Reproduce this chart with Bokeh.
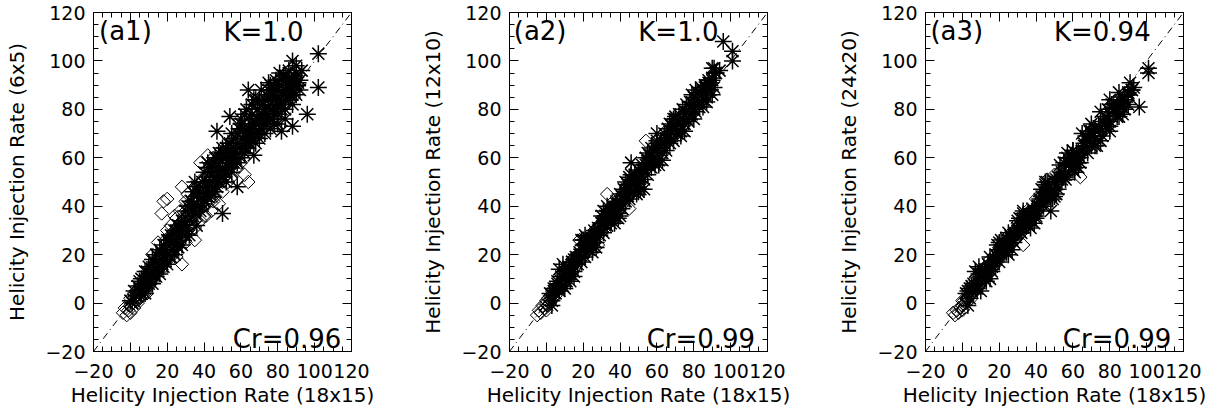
import math
from bokeh.plotting import figure
from bokeh.models import Range1d, LinearAxis, SingleIntervalTicker, Slope, Label
from bokeh.layouts import row
from bokeh.embed import file_html
from bokeh.resources import INLINE

FONT = "DejaVu Sans"

# ---------------- data ----------------
# panel a1 : 6x5 vs 18x15
a1_star_x = [102, 102, 96, 88, 88, 82, 64, 67, 54, 47, 50, 58, 93, 81, 75,
             90, 92, 89, 86, 85, 83, 80, 78, 76, 74, 72, 70, 68, 66, 64, 62, 60, 58, 56, 55,
             86, 84, 80, 78, 76, 73, 70, 68, 65, 62, 90, 88, 84, 82, 79, 77, 74, 71, 67, 63,
             92, 87, 80, 75, 69, 66, 61, 59, 57, 53,
             52, 50, 48, 46, 45, 43, 41, 40, 38, 36, 35, 33, 31, 30, 48, 44, 42, 39, 37, 34, 55, 52, 47, 50, 53,
             28, 26, 24, 22, 20, 18, 16, 14, 12, 10, 8, 6, 4, 2, 25, 20, 15, 10, 5, 0, 27, 23, 19, 17, 13, 11, 9, 7, 3, 1]
a1_star_y = [103, 89, 78, 100, 73, 71, 88, 61, 77, 71, 37, 48, 96, 95, 91,
             95, 92, 90, 93, 88, 86, 88, 84, 80, 78, 82, 76, 74, 78, 72, 70, 74, 66, 64, 70,
             84, 80, 78, 74, 72, 70, 68, 66, 66, 62, 86, 82, 76, 82, 80, 76, 74, 72, 70, 66,
             88, 86, 74, 84, 80, 74, 68, 72, 60, 58,
             60, 56, 54, 52, 58, 50, 48, 54, 46, 44, 50, 42, 40, 38, 62, 46, 56, 50, 40, 46, 54, 50, 48, 64, 66,
             34, 32, 30, 28, 26, 24, 22, 20, 18, 15, 13, 10, 7, 5, 24, 20, 15, 10, 5, 1, 30, 25, 22, 18, 14, 12, 9, 7, 3, 0]
a1_star_core_x = [5, 7, 9, 11, 13, 15, 17, 19, 21, 23, 25, 27, 29, 31, 33, 35, 37, 39, 41, 43,
                  45, 47, 49, 51, 53, 55, 57, 59, 61, 63, 65, 67, 69, 71, 73, 75, 77, 79, 81, 83,
                  85, 87, 89, 91, 6, 10, 14, 18, 22, 26, 30, 34, 38, 42, 46, 50, 54, 58, 62, 66,
                  70, 74, 78, 82, 86, 90, 36, 44, 52, 60, 68, 76, 84, 32, 40, 56, 64, 72, 80, 88]
a1_star_core_y = [9, 6, 13, 10, 17, 14, 21, 18, 26, 22, 30, 27, 34, 31, 40, 37, 45, 41, 50, 46,
                  54, 51, 59, 55, 63, 60, 68, 64, 72, 69, 77, 73, 80, 77, 84, 81, 88, 85, 90, 87,
                  92, 89, 94, 91, 4, 8, 11, 15, 19, 23, 28, 36, 38, 44, 46, 52, 58, 58, 64, 68,
                  70, 76, 78, 80, 86, 90, 48, 56, 64, 76, 84, 90, 94, 34, 42, 62, 70, 76, 82, 88]
a1_star_fill_x = [60, 62, 64, 66, 68, 70, 72, 74, 76, 78, 80, 82, 84, 86, 88, 90, 61, 65, 69, 73,
                  77, 81, 85, 89, 63, 67, 71, 75, 79, 83, 40, 42, 44, 46, 48, 50, 52, 54, 56, 58,
                  20, 24, 28, 32, 36, 16, 12, 8, 26, 34]
a1_star_fill_y = [60, 78, 66, 82, 70, 84, 74, 86, 76, 90, 78, 92, 84, 96, 86, 98, 64, 70, 76, 80,
                  86, 84, 90, 92, 80, 84, 88, 88, 92, 94, 42, 58, 44, 60, 50, 62, 54, 66, 58, 70,
                  16, 20, 24, 28, 32, 12, 8, 4, 32, 40]
a1_dia_x = [18, 20, 17, 28, 42, 28, 35, 64, 62, 9, 44, 48, 24, 31, 38,
            -4, -3, -2, -1, 0, 0, 1, 2, 2, 3, 4, 4, 5, 6, 6, 7, 8, 8, 9, 10, 10, 11, 12, 12, 13, 14, 15, 15, 16, 17,
            18, 18, 19, 20, 21, 22, 22, 23, 24, 25, 26, 27, 28, 29, 30, 31, 32, 33, 34, 35, 36, 37, 38, 39, 40, 41, 42, 43, 44, 45,
            46, 47, 48, 49, 50, 51, 52, 54, 55, 57, 20, 25, 30, 35, 40, 45, 50, 15, 22, 27, 12, 30, 40, 50, 55, 58, 60, 45, 35, 25]
a1_dia_y = [42, 43, 37, 48, 61, 16, 26, 50, 53, 4, 38, 41, 36, 45, 58,
            -4, -2, -5, -3, -1, -4, 0, -2, 2, 1, 3, 0, 5, 3, 7, 5, 8, 4, 10, 7, 12, 9, 13, 10, 15, 12, 17, 13, 18, 15,
            20, 16, 22, 18, 24, 20, 26, 22, 28, 23, 30, 26, 32, 28, 35, 30, 38, 33, 40, 36, 42, 38, 45, 41, 48, 44, 50, 46, 52, 48,
            55, 50, 57, 52, 58, 54, 60, 56, 62, 58, 30, 35, 42, 48, 52, 60, 62, 25, 32, 38, 20, 25, 36, 46, 52, 56, 58, 42, 31, 19]
a1_dia_core_x = [0, 2, 4, 6, 8, 10, 12, 14, 16, 18, 20, 22, 24, 26, 28, 30, 32, 34, 36, 38,
                 40, 42, 44, 46, 48, 50, 52, 3, 7, 11, 15, 19, 23, 27, 31, 35, 39, 43, 47, 51,
                 20, 22, 24, 26, 28, 30, 32, 34, 36, 38, 40, 42, 44, 46, 48, 50, 52, 54, 56, 58,
                 5, 8, 11, 14, 17, 33, 37, 41, 53, 60]
a1_dia_core_y = [2, 4, 1, 8, 6, 12, 9, 14, 20, 17, 25, 19, 30, 24, 34, 28, 40, 36, 44, 34,
                 49, 41, 55, 44, 60, 50, 64, 5, 10, 14, 19, 26, 27, 33, 37, 42, 46, 50, 54, 57,
                 22, 28, 26, 32, 30, 38, 32, 42, 38, 46, 40, 52, 46, 54, 50, 60, 54, 64, 58, 66,
                 2, 10, 8, 16, 14, 30, 42, 36, 50, 64]

# panel a2 : 12x10 vs 18x15
a2_star_x = [96, 101, 101, 90, 92, 53, 46, 88, 94,
             2, 3, 4, 5, 6, 7, 8, 9, 10, 11, 12, 13, 14, 15, 16, 17, 18, 19, 20, 21,
             22, 23, 24, 25, 26, 27, 28, 29, 30, 31, 32, 33, 34, 35, 36, 37, 38, 39, 40, 41,
             42, 43, 44, 45, 46, 47, 48, 49, 50, 51, 52, 53, 54, 55, 56, 57, 58, 59, 60, 61,
             62, 63, 64, 65, 66, 67, 68, 69, 70, 71, 72, 73, 74, 75, 76, 77, 78, 79, 80, 81,
             82, 83, 84, 85, 86, 87, 88, 89, 90, 91, 60, 70, 75, 80, 65, 55, 45, 35, 25, 50]
a2_star_y = [108, 104, 100, 97, 95, 47, 58, 92, 96,
             4, 1, 6, 4, 8, 5, 11, 7, 13, 9, 14, 12, 17, 13, 19, 16, 21, 17, 24, 19,
             25, 22, 27, 23, 30, 25, 31, 28, 33, 29, 36, 32, 38, 33, 40, 36, 42, 37, 45, 39,
             47, 42, 49, 43, 51, 46, 53, 47, 55, 50, 57, 51, 60, 53, 61, 56, 63, 57, 66, 59,
             67, 62, 70, 63, 72, 66, 73, 67, 76, 70, 78, 71, 80, 74, 82, 75, 83, 78, 85, 79,
             87, 81, 89, 84, 90, 85, 91, 88, 93, 89, 70, 72, 78, 80, 68, 58, 47, 37, 26, 52]
a2_star_core_x = [4, 8, 12, 16, 20, 24, 28, 32, 36, 40, 44, 48, 52, 56, 60, 64, 68, 72, 76, 80,
                  84, 88, 92, 6, 10, 14, 18, 22, 26, 30, 34, 38, 42, 46, 50, 54, 58, 62, 66, 70,
                  74, 78, 82, 86, 90, 5, 15, 25, 35, 45, 55, 65, 75, 85, 11, 21, 31, 41, 51, 61,
                  3, 9, 15, 21, 27, 33, 39, 45, 51, 57, 63, 69, 75, 81, 87,
                  7, 13, 19, 25, 31, 37, 43, 49, 55, 61, 67, 73, 79, 85, 91,
                  10, 30, 50, 70, 90, 20, 40, 60, 80, 46]
a2_star_core_y = [5, 9, 15, 18, 22, 26, 30, 34, 39, 42, 47, 50, 55, 58, 63, 66, 71, 74, 79, 82,
                  87, 90, 95, 9, 12, 17, 20, 25, 28, 33, 36, 41, 44, 49, 52, 57, 60, 65, 68, 73,
                  76, 81, 84, 89, 92, 6, 18, 27, 38, 47, 58, 68, 78, 88, 12, 24, 33, 44, 54, 64,
                  -1, 16, 11, 28, 23, 40, 35, 52, 47, 64, 59, 76, 71, 88, 83,
                  14, 9, 26, 21, 38, 33, 50, 45, 62, 57, 74, 69, 86, 81, 97,
                  6, 36, 46, 77, 86, 26, 36, 67, 76, 53]
a2_dia_x = [-5, -4, -3, -2, -1, 0, 0, 1, 1, 2, 3, 3, 4, 5, 5, 6, 7, 8, 9, 10,
            11, 12, 13, 14, 15, 16, 17, 18, 18, 19, 20, 21, 22, 23, 24, 25, 26, 27, 28, 29,
            30, 31, 32, 33, 33, 34, 35, 36, 37, 38, 39, 40, 41, 42, 43, 44, 45, 45, 46, 47,
            48, 49, 50, 51, 52, 54, 53, 55, 57, 60, 8, 14, 20, 26, 32, 38, 44, 50, 56, 62]
a2_dia_y = [-5, -3, -4, -1, -2, 0, -3, 2, -1, 0, 3, 1, 4, 3, 6, 5, 8, 6, 10, 8,
            13, 11, 15, 13, 17, 15, 19, 17, 26, 21, 19, 23, 21, 25, 23, 28, 25, 30, 24, 32,
            29, 34, 31, 45, 36, 33, 38, 35, 40, 37, 42, 39, 44, 41, 46, 43, 39, 48, 45, 50,
            47, 52, 49, 54, 51, 67, 56, 58, 60, 62, 12, 18, 24, 30, 34, 40, 46, 52, 60, 64]
a2_dia_core_x = [0, 2, 4, 6, 8, 10, 12, 14, 16, 18, 20, 22, 24, 26, 28, 30, 32, 34, 36, 38,
                 40, 42, 44, 46, 48, 50, 52, 1, 3, 5]
a2_dia_core_y = [1, 3, 6, 7, 9, 12, 13, 16, 18, 20, 22, 24, 26, 28, 31, 32, 34, 37, 38, 41,
                 42, 45, 46, 49, 50, 53, 55, -1, 2, 5]

# panel a3 : 24x20 vs 18x15
a3_star_x = [101, 101, 96, 93, 48, 90, 88, 92,
             2, 4, 6, 8, 10, 12, 14, 16, 18, 20, 22, 24, 26, 28, 30, 32, 34, 36, 38, 40,
             42, 44, 46, 48, 50, 52, 54, 56, 58, 60, 62, 64, 66, 68, 70, 72, 74, 76, 78, 80,
             82, 84, 86, 88, 90, 3, 7, 11, 15, 19, 23, 27, 31, 35, 39, 43, 47, 51, 55, 59,
             63, 67, 71, 75, 79, 83, 87, 65, 70, 60, 75, 80, 57, 85, 45, 33, 25, 15, 9, 53]
a3_star_y = [97, 95, 81, 89, 38, 86, 84, 88,
             4, 2, 8, 6, 12, 10, 16, 13, 20, 17, 24, 21, 28, 25, 31, 29, 35, 32, 39, 36,
             43, 40, 47, 44, 50, 47, 54, 51, 58, 55, 62, 58, 66, 62, 70, 65, 73, 69, 77, 73,
             80, 77, 83, 80, 87, 5, 6, 13, 14, 19, 24, 26, 32, 33, 38, 44, 45, 51, 52, 58,
             61, 65, 69, 72, 76, 80, 84, 70, 74, 63, 79, 84, 62, 87, 50, 37, 29, 19, 12, 57]
a3_star_core_x = [4, 8, 12, 16, 20, 24, 28, 32, 36, 40, 44, 48, 52, 56, 60, 64, 68, 72, 76, 80,
                  84, 88, 92, 6, 10, 14, 18, 22, 26, 30, 34, 38, 42, 46, 50, 54, 58, 62, 66, 70,
                  74, 78, 82, 86, 90, 5, 15, 25, 35, 45, 55, 65, 75, 85, 11, 21, 31, 41, 51, 61,
                  3, 9, 15, 21, 27, 33, 39, 45, 51, 57, 63, 69, 75, 81, 87,
                  7, 13, 19, 25, 31, 37, 43, 49, 55, 61, 67, 73, 79, 85, 91,
                  10, 30, 50, 70, 90, 20, 40, 60, 80, 46]
a3_star_core_y = [6, 7, 14, 15, 22, 23, 29, 31, 37, 38, 44, 45, 52, 53, 60, 60, 67, 68, 75, 75,
                  82, 83, 88, 6, 11, 16, 18, 23, 27, 29, 35, 37, 42, 44, 50, 51, 57, 58, 65, 65,
                  72, 73, 80, 81, 86, 7, 15, 26, 34, 44, 53, 63, 72, 82, 12, 22, 30, 40, 49, 59,
                  -1, 15, 10, 26, 22, 38, 33, 49, 45, 60, 56, 71, 67, 82, 78,
                  13, 9, 24, 20, 35, 31, 47, 43, 58, 54, 69, 65, 80, 77, 91,
                  5, 34, 44, 71, 82, 25, 35, 63, 71, 50]
a3_dia_x = [-5, -4, -3, -2, -1, 0, 0, 1, 2, 3, 4, 5, 6, 7, 8, 9, 10, 11, 12, 13,
            14, 15, 16, 17, 18, 19, 20, 21, 22, 23, 24, 25, 26, 27, 28, 29, 30, 31, 32, 33,
            33, 34, 35, 36, 37, 38, 39, 40, 41, 42, 43, 44, 45, 46, 46, 47, 48, 49, 50, 52,
            54, 56, 58, 60, 62, 64, 64, 66, 68, 70, 5, 10, 15, 20, 25, 30, 35, 40, 45, 50]
a3_dia_y = [-4, -5, -3, -4, -2, -1, -3, 1, 0, 2, 3, 5, 4, 7, 6, 9, 8, 11, 10, 13,
            12, 15, 14, 17, 16, 19, 18, 21, 20, 23, 22, 25, 24, 27, 26, 28, 27, 31, 29, 24,
            33, 31, 35, 33, 37, 35, 39, 37, 41, 39, 43, 41, 45, 51, 43, 47, 45, 49, 47, 51,
            52, 55, 56, 59, 60, 52, 62, 64, 66, 68, 8, 13, 18, 23, 28, 33, 38, 43, 48, 53]
a3_dia_core_x = [0, 2, 4, 6, 8, 10, 12, 14, 16, 18, 20, 22, 24, 26, 28, 30, 32, 34, 36, 38,
                 40, 42, 44, 48, 52, 56, 60, 1, 3, 5]
a3_dia_core_y = [1, 2, 5, 7, 8, 11, 12, 15, 16, 19, 21, 22, 25, 26, 29, 30, 31, 34, 35, 38,
                 39, 42, 43, 47, 50, 54, 58, -2, 4, 2]

x_title = "Helicity Injection Rate (18x15)"
y_titles = ["Helicity Injection Rate (6x5)", "Helicity Injection Rate (12x10)", "Helicity Injection Rate (24x20)"]
tags = ["(a1)", "(a2)", "(a3)"]
k_texts = ["K=1.0", "K=1.0", "K=0.94"]
cr_texts = ["Cr=0.96", "Cr=0.99", "Cr=0.99"]
tick_values = [-20, 0, 20, 40, 60, 80, 100, 120]


def style_axis(ax, show_labels):
    ax.ticker = SingleIntervalTicker(interval=20, num_minor_ticks=4)
    ax.major_tick_in = 9
    ax.major_tick_out = 0
    ax.minor_tick_in = 5
    ax.minor_tick_out = 0
    ax.major_tick_line_color = "black"
    ax.minor_tick_line_color = "black"
    ax.axis_line_color = "black"
    ax.major_label_text_font = FONT
    ax.major_label_text_color = "black"
    ax.major_label_text_font_size = "19px"
    ax.axis_label_text_font = FONT
    ax.axis_label_text_font_style = "normal"
    ax.axis_label_text_color = "black"
    ax.axis_label_text_font_size = "20px"
    if show_labels:
        ax.major_label_overrides = {-20: "\u221220"}
    else:
        ax.major_label_overrides = {v: "" for v in tick_values}
        ax.major_label_standoff = 0


def make_panel(i, width, border_right, sx, sy, dx, dy, tag_x, k_x, cr_x):
    p = figure(width=width, height=417,
               x_range=Range1d(-20, 120), y_range=Range1d(-20, 120),
               output_backend="svg", toolbar_location=None,
               min_border_left=93, min_border_right=border_right,
               min_border_top=12, min_border_bottom=66,
               x_axis_label=x_title, y_axis_label=y_titles[i])
    p.grid.visible = False
    p.background_fill_color = "white"
    p.border_fill_color = "white"
    p.outline_line_color = "black"
    p.outline_line_width = 1
    p.outline_line_alpha = 1

    style_axis(p.xaxis[0], True)
    style_axis(p.yaxis[0], True)
    p.xaxis[0].major_label_standoff = 12
    p.xaxis[0].axis_label_standoff = 2
    p.yaxis[0].major_label_standoff = 8
    p.yaxis[0].axis_label_standoff = 13

    top = LinearAxis()
    style_axis(top, False)
    p.add_layout(top, "above")
    right = LinearAxis()
    style_axis(right, False)
    p.add_layout(right, "right")

    p.add_layout(Slope(gradient=1, y_intercept=0, line_color="black",
                       line_width=1, line_dash="7 4 1 4"))

    p.scatter(dx, dy, marker="square", angle=math.pi / 4, size=9.5, fill_color=None,
              line_color="black", line_width=1)
    p.scatter(sx, sy, marker="asterisk", size=17,
              line_color="black", line_width=1.5)

    p.add_layout(Label(x=tag_x, y=112.5, text=tags[i], text_font=FONT,
                       text_font_size="26px", text_color="black",
                       text_align="left", text_baseline="middle"))
    p.add_layout(Label(x=k_x, y=112, text=k_texts[i], text_font=FONT,
                       text_font_size="26px", text_color="black",
                       text_align="right", text_baseline="middle"))
    p.add_layout(Label(x=cr_x, y=-15, text=cr_texts[i], text_font=FONT,
                       text_font_size="26px", text_color="black",
                       text_align="right", text_baseline="middle"))
    return p


p1 = make_panel(0, 416, 65, a1_star_x + a1_star_core_x + a1_star_fill_x,
                a1_star_y + a1_star_core_y + a1_star_fill_y,
                a1_dia_x + a1_dia_core_x, a1_dia_y + a1_dia_core_y, -17, 94, 114.5)
p2 = make_panel(1, 416, 65, a2_star_x + a2_star_core_x, a2_star_y + a2_star_core_y,
                a2_dia_x + a2_dia_core_x, a2_dia_y + a2_dia_core_y, -17.7, 93.4, 113.3)
p3 = make_panel(2, 395, 44, a3_star_x + a3_star_core_x, a3_star_y + a3_star_core_y,
                a3_dia_x + a3_dia_core_x, a3_dia_y + a3_dia_core_y, -17.3, 102.2, 113.4)

layout = row(p1, p2, p3)
open("out.html", "w").write(file_html(layout, INLINE))
